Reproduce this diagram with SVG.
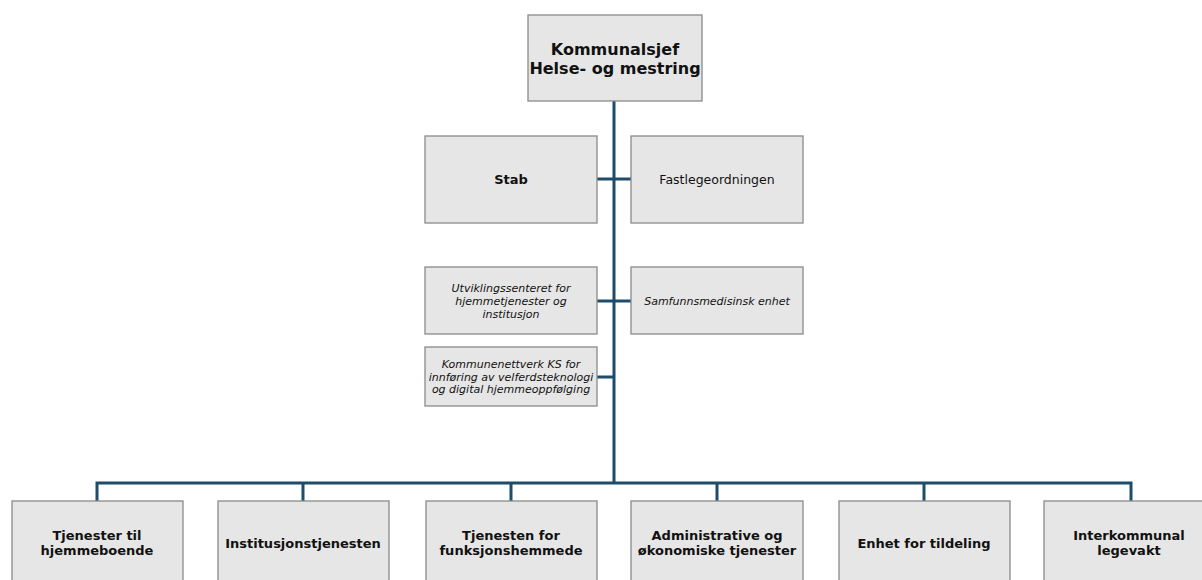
<svg xmlns="http://www.w3.org/2000/svg" width="1202" height="580" viewBox="0 0 1202 580">
<style>
.box{fill:#e6e6e6;stroke:#8a8a8a;stroke-width:1.3}
.t{font-family:"DejaVu Sans",Verdana,sans-serif;fill:#111;text-anchor:middle}
.b{font-weight:bold;font-size:13px}
.n{font-size:12.5px}
.i{font-style:italic;font-size:11px}
.top{font-weight:bold;font-size:16px}
.c{stroke:#1d4d6b;stroke-width:3;fill:none}
</style>
<rect width="1202" height="580" fill="#fff"/>
<g id="connectors">
<path class="c" d="M614 101V483"/>
<path class="c" d="M597 179H631M597 301H631M597 377H614"/>
<path class="c" d="M97 501V483H1131V501M303 483V501M511 483V501M717 483V501M924 483V501"/>
</g>
<g id="n-kommunalsjef"><rect class="box" x="528" y="15" width="174" height="86"/><text class="t top" x="615" y="55">Kommunalsjef</text><text class="t top" x="615" y="74">Helse- og mestring</text></g>
<g id="n-stab"><rect class="box" x="425" y="136" width="172" height="87"/><text class="t b" x="511" y="184">Stab</text></g>
<g id="n-fastlege"><rect class="box" x="631" y="136" width="172" height="87"/><text class="t n" x="717" y="184">Fastlegeordningen</text></g>
<g id="n-utvikling"><rect class="box" x="425" y="267" width="172" height="67"/><text class="t i" x="511" y="292">Utviklingssenteret for</text><text class="t i" x="511" y="305">hjemmetjenester og</text><text class="t i" x="511" y="318">institusjon</text></g>
<g id="n-samfunn"><rect class="box" x="631" y="267" width="172" height="67"/><text class="t i" x="717" y="305">Samfunnsmedisinsk enhet</text></g>
<g id="n-ks"><rect class="box" x="425" y="347" width="172" height="59"/><text class="t i" x="511" y="368">Kommunenettverk KS for</text><text class="t i" x="511" y="380.5">innføring av velferdsteknologi</text><text class="t i" x="511" y="393">og digital hjemmeoppfølging</text></g>
<g id="n-hjemme"><rect class="box" x="12" y="501" width="171" height="90"/><text class="t b" x="97" y="540">Tjenester til</text><text class="t b" x="97" y="554.5">hjemmeboende</text></g>
<g id="n-institusjon"><rect class="box" x="218" y="501" width="171" height="90"/><text class="t b" x="303" y="548">Institusjonstjenesten</text></g>
<g id="n-funksjon"><rect class="box" x="426" y="501" width="171" height="90"/><text class="t b" x="511" y="540">Tjenesten for</text><text class="t b" x="511" y="554.5">funksjonshemmede</text></g>
<g id="n-admin"><rect class="box" x="631" y="501" width="172" height="90"/><text class="t b" x="717" y="540">Administrative og</text><text class="t b" x="717" y="554.5">økonomiske tjenester</text></g>
<g id="n-tildeling"><rect class="box" x="839" y="501" width="171" height="90"/><text class="t b" x="924" y="548">Enhet for tildeling</text></g>
<g id="n-legevakt"><rect class="box" x="1044" y="501" width="171" height="90"/><text class="t b" x="1129" y="540">Interkommunal</text><text class="t b" x="1129" y="554.5">legevakt</text></g>
</svg>
